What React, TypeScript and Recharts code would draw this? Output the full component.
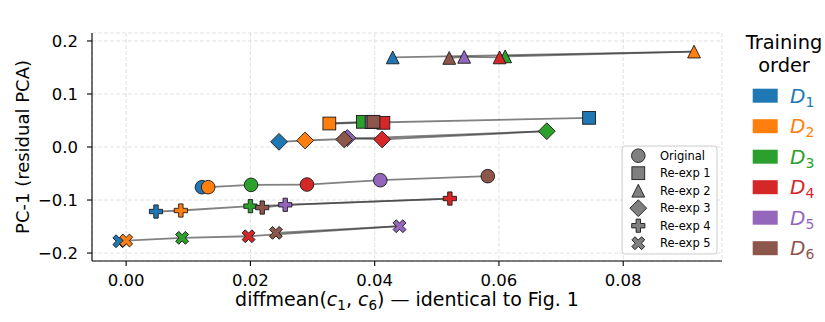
import { CartesianGrid, Legend, Scatter, ScatterChart, XAxis, YAxis } from "recharts";

const FONT = "'DejaVu Sans', Verdana, sans-serif";

// training orders D1..D6 (tab10)
const D_SUBS = ["1", "2", "3", "4", "5", "6"];
const D_COLORS = ["#1f77b4", "#ff7f0e", "#2ca02c", "#d62728", "#9467bd", "#8c564b"];

const ROW_NAMES = ["Original", "Re-exp 1", "Re-exp 2", "Re-exp 3", "Re-exp 4", "Re-exp 5"];
const ROW_SHAPES = ["circle", "square", "triangle", "diamond", "plus", "cross"];

// values per row, indexed by training order D1..D6
const ORIGINAL_X = [0.0122, 0.0132, 0.0201, 0.0291, 0.0409, 0.0582];
const ORIGINAL_Y = [-0.0758, -0.0758, -0.0714, -0.0708, -0.0626, -0.055];
const REEXP1_X = [0.0745, 0.0327, 0.0381, 0.0414, 0.0395, 0.0398];
const REEXP1_Y = [0.055, 0.0443, 0.0475, 0.0456, 0.047, 0.0475];
const REEXP2_X = [0.0429, 0.0914, 0.061, 0.0601, 0.0544, 0.052];
const REEXP2_Y = [0.169, 0.18, 0.171, 0.169, 0.17, 0.168];
const REEXP3_X = [0.0246, 0.0288, 0.0677, 0.0412, 0.0356, 0.0351];
const REEXP3_Y = [0.0098, 0.0123, 0.0298, 0.0142, 0.017, 0.0142];
const REEXP4_X = [0.0048, 0.0088, 0.02, 0.0521, 0.0256, 0.0219];
const REEXP4_Y = [-0.1217, -0.1198, -0.1116, -0.0972, -0.109, -0.1142];
const REEXP5_X = [-0.0011, 0.0, 0.009, 0.0197, 0.044, 0.0241];
const REEXP5_Y = [-0.1777, -0.1764, -0.1713, -0.1683, -0.1494, -0.1619];

const ROW_X = [ORIGINAL_X, REEXP1_X, REEXP2_X, REEXP3_X, REEXP4_X, REEXP5_X];
const ROW_Y = [ORIGINAL_Y, REEXP1_Y, REEXP2_Y, REEXP3_Y, REEXP4_Y, REEXP5_Y];

const X_TICKS = [0, 0.02, 0.04, 0.06, 0.08];
const Y_TICKS = [-0.2, -0.1, 0, 0.1, 0.2];
const X_DOMAIN = [-0.0055, 0.0959];
const Y_DOMAIN = [-0.215, 0.215];

const W = 825;
const H = 322;
const PLOT_LEFT = 92;
const PLOT_RIGHT = 722;
const PLOT_TOP = 33;
const PLOT_BOTTOM = 261;
const PLOT_CX = (PLOT_LEFT + PLOT_RIGHT) / 2;

type Pt = { x: number; y: number; color: string };

const rows: Pt[][] = ROW_X.map((xs, r) =>
  xs.map((x, i) => ({ x, y: ROW_Y[r][i], color: D_COLORS[i] }))
);

// consecutive training orders joined by separate segments
const segments: { row: number; pts: Pt[] }[] = [];
rows.forEach((pts, r) => {
  for (let i = 0; i < pts.length - 1; i++) segments.push({ row: r, pts: [pts[i], pts[i + 1]] });
});

function Glyph({ kind, cx, cy, fill }: { kind: string; cx: number; cy: number; fill: string }) {
  const st = { fill, stroke: "#1a1a1a", strokeWidth: 0.9 };
  if (kind === "circle") return <circle cx={cx} cy={cy} r={6.8} {...st} />;
  if (kind === "square") return <rect x={cx - 6.4} y={cy - 6.4} width={12.8} height={12.8} {...st} />;
  if (kind === "triangle") {
    const h = 6.4;
    return <polygon points={`${cx},${cy - h} ${cx - h},${cy + h} ${cx + h},${cy + h}`} {...st} />;
  }
  if (kind === "diamond") {
    const h = 8.4;
    return <polygon points={`${cx},${cy - h} ${cx + h},${cy} ${cx},${cy + h} ${cx - h},${cy}`} {...st} />;
  }
  const h = kind === "plus" ? 6.6 : 6.9;
  const w = 2.2;
  const d = `M${cx - w},${cy - h}H${cx + w}V${cy - w}H${cx + h}V${cy + w}H${cx + w}V${cy + h}H${cx - w}V${cy + w}H${cx - h}V${cy - w}H${cx - w}Z`;
  return <path d={d} transform={kind === "cross" ? `rotate(45 ${cx} ${cy})` : undefined} {...st} />;
}

const NoShape = () => <g />;

function Legends() {
  const boxX = 622;
  const boxY = 146;
  const rowY = (i: number) => 155.7 + i * 17.5;
  const patchY = (i: number) => 95.7 + i * 30.5;
  return (
    <svg width={W} height={H} style={{ position: "absolute", left: 0, top: 0 }}>
      <rect x={boxX} y={boxY} width={95} height={108} rx={3} fill="#fff" fillOpacity={0.8} stroke="#cccccc" />
      {ROW_NAMES.map((name, i) => (
        <g key={name}>
          <Glyph kind={ROW_SHAPES[i]} cx={638.3} cy={rowY(i)} fill="#808080" />
          <text x={660} y={rowY(i) + 4} fontSize={11.5} fontFamily={FONT} fill="#000">
            {name}
          </text>
        </g>
      ))}
      <text x={784} y={49.3} textAnchor="middle" fontSize={19.4} fontFamily={FONT} fill="#000">
        Training
      </text>
      <text x={784} y={71.7} textAnchor="middle" fontSize={19.4} fontFamily={FONT} fill="#000">
        order
      </text>
      {D_COLORS.map((c, i) => (
        <g key={c}>
          <rect x={752.7} y={patchY(i) - 7} width={25} height={14} fill={c} />
          <text x={790} y={patchY(i) + 7} fontSize={20} fontFamily={FONT} fill={c}>
            <tspan fontStyle="italic">D</tspan>
            <tspan dy={4} fontSize={14}>
              {D_SUBS[i]}
            </tspan>
          </text>
        </g>
      ))}
    </svg>
  );
}

const tickStyle = { fontSize: 16.5, fill: "#000", fontFamily: FONT };
const spine = { stroke: "#000", strokeWidth: 1.1 };
const fmtX = (v: number) => v.toFixed(2);
const fmtY = (v: number) => v.toFixed(1).replace("-", "\u2212");

export default function App() {
  return (
    <div style={{ position: "absolute", left: 0, top: 0, width: W, height: H, background: "#fff" }}>
      <ScatterChart
        width={W}
        height={H}
        margin={{ top: PLOT_TOP, right: W - PLOT_RIGHT, bottom: 0, left: 0 }}
      >
        <CartesianGrid strokeDasharray="4 2" stroke="#d9d9d9" strokeWidth={0.8} />
        <XAxis
          type="number"
          dataKey="x"
          domain={X_DOMAIN}
          ticks={X_TICKS}
          tickFormatter={fmtX}
          height={H - PLOT_BOTTOM}
          tick={tickStyle}
          tickSize={5}
          tickMargin={8}
          tickLine={spine}
          axisLine={spine}
          label={() => (
            <text x={PLOT_CX} y={306} textAnchor="middle" fontSize={19} fontFamily={FONT} fill="#000">
              diffmean(
              <tspan fontStyle="italic">c</tspan>
              <tspan dy={4} fontSize={13.5}>1</tspan>
              <tspan dy={-4}>, </tspan>
              <tspan fontStyle="italic">c</tspan>
              <tspan dy={4} fontSize={13.5}>6</tspan>
              <tspan dy={-4}>) — identical to Fig. 1</tspan>
            </text>
          )}
        />
        <YAxis
          type="number"
          dataKey="y"
          domain={Y_DOMAIN}
          ticks={Y_TICKS}
          tickFormatter={fmtY}
          width={PLOT_LEFT}
          tick={tickStyle}
          tickSize={5}
          tickMargin={9}
          tickLine={spine}
          axisLine={spine}
          label={() => (
            <text
              x={29}
              y={(PLOT_TOP + PLOT_BOTTOM) / 2}
              transform={`rotate(-90 29 ${(PLOT_TOP + PLOT_BOTTOM) / 2})`}
              textAnchor="middle"
              fontSize={18}
              fontFamily={FONT}
              fill="#000"
            >
              PC-1 (residual PCA)
            </text>
          )}
        />
        <XAxis
          xAxisId="top"
          orientation="top"
          type="number"
          domain={X_DOMAIN}
          ticks={X_TICKS}
          height={0}
          tick={false}
          tickLine={false}
          axisLine={spine}
          label={() => (
            <text x={PLOT_CX} y={25} textAnchor="middle" fontSize={19.4} fontFamily={FONT} fill="#000">
              Re-exposure
            </text>
          )}
        />
        <YAxis
          yAxisId="right"
          orientation="right"
          type="number"
          domain={Y_DOMAIN}
          ticks={Y_TICKS}
          width={0}
          tick={false}
          tickLine={false}
          axisLine={spine}
        />
        {segments.map((s, k) => (
          <Scatter
            key={`seg-${k}`}
            data={s.pts}
            fill="none"
            line={{ stroke: "#333", strokeOpacity: 0.62, strokeWidth: 1.8 }}
            shape={NoShape}
            legendType="none"
            isAnimationActive={false}
          />
        ))}
        {rows.map((pts, r) => (
          <Scatter
            key={ROW_NAMES[r]}
            name={ROW_NAMES[r]}
            data={pts}
            legendType="none"
            isAnimationActive={false}
            shape={(p: any) => <Glyph kind={ROW_SHAPES[r]} cx={p.cx} cy={p.cy} fill={p.payload.color} />}
          />
        ))}
        <Legend
          layout="vertical"
          align="center"
          verticalAlign="middle"
          wrapperStyle={{ left: 0, top: 0, width: W, height: H, pointerEvents: "none" }}
          content={() => <Legends />}
        />
      </ScatterChart>
    </div>
  );
}
